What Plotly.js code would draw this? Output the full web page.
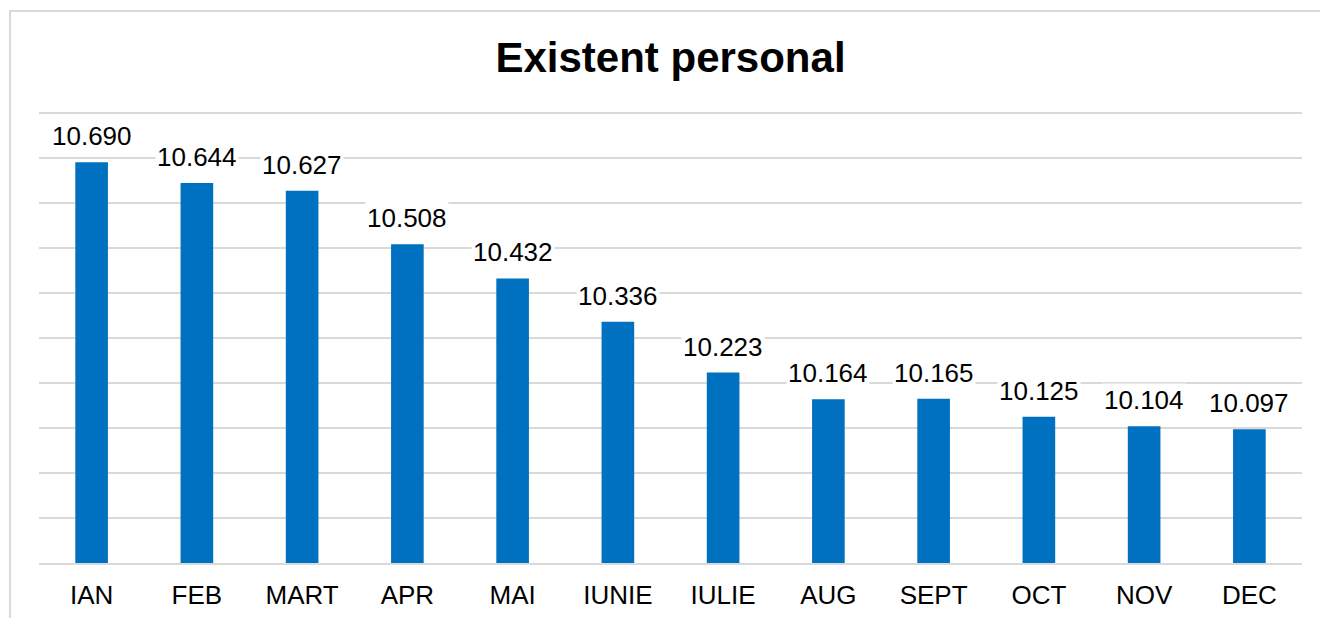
<!DOCTYPE html>
<html>
<head>
<meta charset="utf-8">
<script src="https://cdn.plot.ly/plotly-3.0.1.min.js"></script>
<style>
html,body{margin:0;padding:0;background:#fff;overflow:hidden;}
#frame{position:absolute;left:9px;top:10px;width:1330px;height:640px;border-left:2px solid #d9d9d9;border-top:2px solid #d9d9d9;box-sizing:border-box;pointer-events:none;}
#chart{position:absolute;left:0;top:0;width:1320px;height:618px;}
</style>
</head>
<body>
<div id="chart"></div>
<div id="frame"></div>
<script>
var months = ["IAN","FEB","MART","APR","MAI","IUNIE","IULIE","AUG","SEPT","OCT","NOV","DEC"];
var personal = [10.690, 10.644, 10.627, 10.508, 10.432, 10.336, 10.223, 10.164, 10.165, 10.125, 10.104, 10.097];
var titleText = "Existent personal";

var font = "Liberation Sans, Arial, sans-serif";

var annotations = months.map(function(m, i){
  return {
    x: m, y: personal[i], xref: 'x', yref: 'y',
    text: personal[i].toFixed(3),
    showarrow: false, yanchor: 'bottom', yshift: 9,
    bgcolor: '#ffffff', borderpad: 1,
    font: {family: font, size: 26, color: '#000000'}
  };
});

var trace = {
  type: 'bar', x: months, y: personal,
  marker: {color: '#0070C0', line: {width: 0}},
  hoverinfo: 'none'
};

var layout = {
  width: 1320, height: 618,
  margin: {l: 39, r: 18, t: 111, b: 55},
  paper_bgcolor: '#ffffff', plot_bgcolor: '#ffffff',
  bargap: 0.69,
  showlegend: false,
  title: {
    text: titleText, x: 0.5, xref: 'paper', y: 1 - 57/618, yref: 'container', yanchor: 'middle',
    font: {family: font, size: 42, color: '#000000', weight: 'bold'}
  },
  xaxis: {
    type: 'category', showgrid: false, zeroline: false,
    showline: true, linecolor: '#d9d9d9', linewidth: 1.5,
    ticks: '', tickfont: {family: font, size: 26, color: '#000000'},
    ticklabelstandoff: 8
  },
  yaxis: {
    range: [9.8, 10.804], dtick: 0.1, tick0: 9.8,
    showticklabels: false, ticks: '', zeroline: false,
    showgrid: true, gridcolor: '#d9d9d9', gridwidth: 1.5
  },
  annotations: annotations
};

Plotly.newPlot('chart', [trace], layout, {staticPlot: true, displayModeBar: false});
</script>
</body>
</html>
